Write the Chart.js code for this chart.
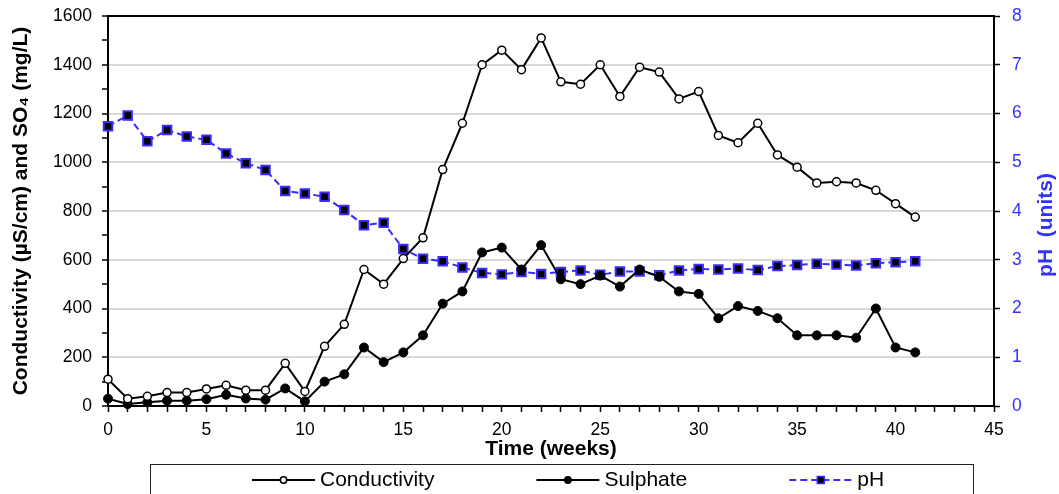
<!DOCTYPE html>
<html>
<head>
<meta charset="utf-8">
<script src="https://cdn.jsdelivr.net/npm/chart.js@4.4.1/dist/chart.umd.min.js"></script>
<style>
  html, body { margin: 0; padding: 0; background: #fff; }
  #wrap { width: 1059px; height: 494px; }
</style>
</head>
<body>
<div id="wrap"><canvas id="waterChart" width="1059" height="494"></canvas></div>
<script>
// Values
const weeks = [0,1,2,3,4,5,6,7,8,9,10,11,12,13,14,15,16,17,18,19,20,
  21,22,23,24,25,26,27,28,29,30,31,32,33,34,35,36,37,38,39,40,41];
const conductivity = [110,30,40,55,55,70,85,65,65,175,60,245,335,560,500,605,690,970,1160,1400,1460,
  1380,1510,1330,1320,1400,1270,1390,1370,1260,1290,1110,1080,1160,1030,980,915,920,915,885,830,775];
const sulphate = [30,8,15,22,22,28,46,31,26,72,19,100,130,240,180,220,290,420,470,630,650,
  560,660,520,500,535,490,560,530,470,460,360,410,390,360,290,290,290,280,400,240,220];
const ph = [5.74,5.96,5.43,5.66,5.53,5.46,5.18,4.98,4.84,4.41,4.36,4.29,4.02,3.71,3.76,3.22,3.02,2.97,2.84,2.73,2.70,
  2.75,2.71,2.75,2.78,2.69,2.76,2.76,2.68,2.78,2.81,2.80,2.82,2.79,2.87,2.89,2.92,2.90,2.88,2.93,2.95,2.97];
const seriesNames = ['Conductivity', 'Sulphate', 'pH'];

const FONT = "'Liberation Sans', Arial, sans-serif";
const BLUE = '#3a2cff';
const TEXT_BLUE = '#3333ff';

const toPoints = vals => weeks.map((w, i) => ({x: w, y: vals[i]}));

// legend with a frame, and right axis title reading bottom-to-top
const extras = {
  id: 'extras',
  afterDraw(chart) {
    const ctx = chart.ctx;
    const area = chart.chartArea;
    ctx.save();

    // right axis title
    ctx.translate(1046, (area.top + area.bottom) / 2 + 14);
    ctx.rotate(-Math.PI / 2);
    ctx.font = 'bold 21px ' + FONT;
    ctx.fillStyle = TEXT_BLUE;
    ctx.textAlign = 'center';
    ctx.textBaseline = 'middle';
    ctx.fillText('pH  (units)', 0, 0);
    ctx.restore();

    // legend frame
    const frameLeft = area.left + 42;
    const frameRight = area.right - 21;
    const frameTop = chart.scales.x.bottom + 2;
    ctx.save();
    ctx.strokeStyle = '#222';
    ctx.lineWidth = 1;
    ctx.strokeRect(frameLeft + 0.5, frameTop + 0.5, frameRight - frameLeft, 60);

    ctx.font = '21px ' + FONT;
    ctx.textBaseline = 'middle';
    ctx.textAlign = 'left';
    const cy = frameTop + 16;
    let x = frameLeft + 102;
    chart.data.datasets.forEach(ds => {
      const lineLen = 63;
      ctx.save();
      ctx.strokeStyle = ds.borderColor;
      ctx.lineWidth = 2;
      ctx.setLineDash(ds.borderDash || []);
      ctx.beginPath();
      ctx.moveTo(x, cy);
      ctx.lineTo(x + lineLen, cy);
      ctx.stroke();
      ctx.setLineDash([]);
      const mx = x + lineLen / 2;
      ctx.fillStyle = ds.pointBackgroundColor;
      ctx.strokeStyle = ds.pointBorderColor;
      ctx.lineWidth = 1.5;
      if (ds.pointStyle === 'rect') {
        ctx.fillRect(mx - 3.5, cy - 3.5, 7, 7);
        ctx.strokeRect(mx - 3.5, cy - 3.5, 7, 7);
      } else {
        ctx.beginPath();
        ctx.arc(mx, cy, 3.2, 0, Math.PI * 2);
        ctx.fill();
        ctx.stroke();
      }
      ctx.restore();
      ctx.fillStyle = '#000';
      ctx.fillText(ds.label, x + lineLen + 5, cy);
      x += lineLen + 5 + ctx.measureText(ds.label).width + 102;
    });
    ctx.restore();
  }
};

const noVertPad = s => { s.paddingTop = 0; s.paddingBottom = 0; };

const chart = new Chart(document.getElementById('waterChart').getContext('2d'), {
  type: 'line',
  data: {
    datasets: [{
      label: seriesNames[0],
      data: toPoints(conductivity),
      yAxisID: 'y',
      borderColor: '#000',
      borderWidth: 2,
      pointStyle: 'circle',
      pointRadius: 4,
      pointBackgroundColor: '#fff',
      pointBorderColor: '#000',
      pointBorderWidth: 1.5,
      tension: 0,
      clip: false
    }, {
      label: seriesNames[1],
      data: toPoints(sulphate),
      yAxisID: 'y',
      borderColor: '#000',
      borderWidth: 2,
      pointStyle: 'circle',
      pointRadius: 4.5,
      pointBackgroundColor: '#000',
      pointBorderColor: '#000',
      pointBorderWidth: 1,
      tension: 0,
      clip: false
    }, {
      label: seriesNames[2],
      data: toPoints(ph),
      yAxisID: 'y1',
      borderColor: BLUE,
      borderWidth: 2,
      borderDash: [7, 4],
      pointStyle: 'rect',
      pointRadius: 6,
      pointBackgroundColor: '#000',
      pointBorderColor: BLUE,
      pointBorderWidth: 2,
      tension: 0,
      clip: false
    }]
  },
  options: {
    responsive: false,
    animation: false,
    layout: { padding: { top: 16, bottom: 32, left: 0, right: 0 } },
    plugins: {
      legend: { display: false },
      tooltip: { enabled: false }
    },
    scales: {
      x: {
        type: 'linear',
        min: 0,
        max: 45,
        afterFit: s => { s.height = 56; s.paddingLeft = 0; s.paddingRight = 0; },
        ticks: {
          stepSize: 1,
          autoSkip: false,
          maxRotation: 0,
          padding: 8,
          color: '#000',
          font: { family: FONT, size: 17.5 },
          callback: v => (v % 5 === 0 ? v : '')
        },
        grid: { drawOnChartArea: false, tickLength: 6, tickColor: '#000', tickWidth: 1.5 },
        border: { color: '#000', width: 2 },
        title: {
          display: true,
          text: 'Time (weeks)',
          color: '#000',
          font: { family: FONT, size: 21, weight: 'bold' },
          padding: { top: 0, bottom: 0 }
        }
      },
      y: {
        position: 'left',
        min: 0,
        max: 1600,
        afterFit: s => { s.width = 108; noVertPad(s); },
        ticks: {
          stepSize: 100,
          padding: 10,
          color: '#000',
          font: { family: FONT, size: 17.5 },
          callback: v => (v % 200 === 0 ? v : '')
        },
        grid: {
          color: c => (c.tick.value === 1600 ? '#000' : (c.tick.value % 200 === 0 && c.tick.value > 0 ? '#d9d9d9' : 'rgba(0,0,0,0)')),
          lineWidth: 2,
          tickColor: '#000',
          tickLength: 6,
          tickWidth: 1.5
        },
        border: { color: '#000', width: 2 },
        title: {
          display: true,
          text: 'Conductivity (µS/cm) and SO₄ (mg/L)',
          color: '#000',
          font: { family: FONT, size: 21, weight: 'bold' },
          padding: { top: 9, bottom: 0 }
        }
      },
      y1: {
        position: 'right',
        min: 0,
        max: 8,
        afterFit: s => { s.width = 65; noVertPad(s); },
        ticks: {
          stepSize: 1,
          padding: 12,
          color: TEXT_BLUE,
          font: { family: FONT, size: 17.5 }
        },
        grid: { drawOnChartArea: false, tickColor: '#000', tickLength: 6, tickWidth: 1.5 },
        border: { color: '#000', width: 2 }
      }
    }
  },
  plugins: [extras]
});
</script>
</body>
</html>
